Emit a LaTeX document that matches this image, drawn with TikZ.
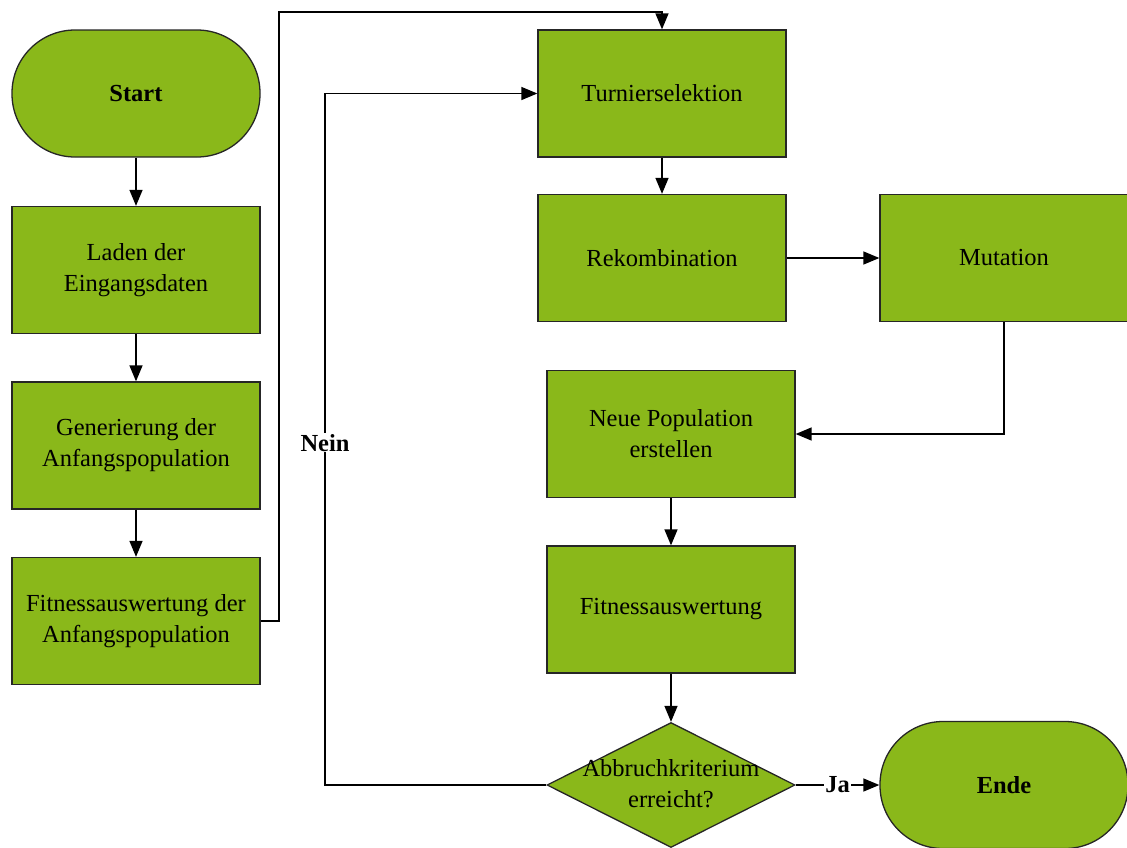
\documentclass[tikz,border=0pt]{standalone}
\usepackage{fontspec}
\setmainfont{Liberation Serif}
\usetikzlibrary{shapes.geometric,arrows.meta}
\definecolor{boxgreen}{HTML}{8AB81A}
\begin{document}
\begin{tikzpicture}[x=1pt,y=-1pt,
  every node/.style={font=\fontsize{24.5}{31}\selectfont, align=center},
  block/.style={draw=black!85, line width=1.3pt, fill=boxgreen, rectangle,
    minimum width=248pt, minimum height=127pt, inner sep=0pt},
  terminal/.style={block, rounded corners=63pt, font=\fontsize{24.5}{31}\selectfont\bfseries},
  decision/.style={draw=black!85, line width=1.3pt, fill=boxgreen, diamond,
    minimum width=248pt, minimum height=125pt, inner sep=0pt},
  flow/.style={line width=1.4pt, -{Triangle[length=16pt,width=13pt]}},
  edgelabel/.style={font=\fontsize{24.5}{31}\selectfont\bfseries, fill=white, inner sep=1pt}
]
\useasboundingbox (0,0) rectangle (1127,847);

% left column
\node[terminal] (start) at (136,93.5) {Start};
\node[block] (laden) at (136,270) {Laden der\\Eingangsdaten};
\node[block] (gen) at (136,445.5) {Generierung der\\Anfangspopulation};
\node[block] (fitA) at (136,621) {Fitnessauswertung der\\Anfangspopulation};

% right part
\node[block] (turnier) at (662,93.5) {Turnierselektion};
\node[block] (rekomb) at (662,258) {Rekombination};
\node[block] (mut) at (1004,258) {Mutation};
\node[block] (neu) at (671,434) {Neue Population\\erstellen};
\node[block] (fit) at (671,609.5) {Fitnessauswertung};
\node[decision] (abb) at (671,785) {};
\node at ([yshift=1pt]abb.center) {Abbruchkriterium\\erreicht?};
\node[terminal] (ende) at (1004,785) {Ende};

\coordinate (c1) at (279,621);
\coordinate (c2) at (279,12);
\coordinate (c3) at (662,12);
\coordinate (n1) at (325,785);
\coordinate (n2) at (325,93.5);
\coordinate (m1) at (1004,434);

% connectors
\draw[flow] (start) -- (laden);
\draw[flow] (laden) -- (gen);
\draw[flow] (gen) -- (fitA);
\draw[flow] (fitA.east) -- (c1) -- (c2) -- (c3) -- (turnier.north);
\draw[flow] (turnier) -- (rekomb);
\draw[flow] (rekomb) -- (mut);
\draw[flow] (mut.south) -- (m1) -- (neu.east);
\draw[flow] (neu) -- (fit);
\draw[flow] (fit) -- (abb.north);
\draw[flow] (abb.west) -- (n1) -- node[edgelabel, pos=0.495] {Nein} (n2) -- (turnier.west);
\draw[flow] (abb.east) -- node[edgelabel, pos=0.5] {Ja} (ende.west);
\end{tikzpicture}
\end{document}
